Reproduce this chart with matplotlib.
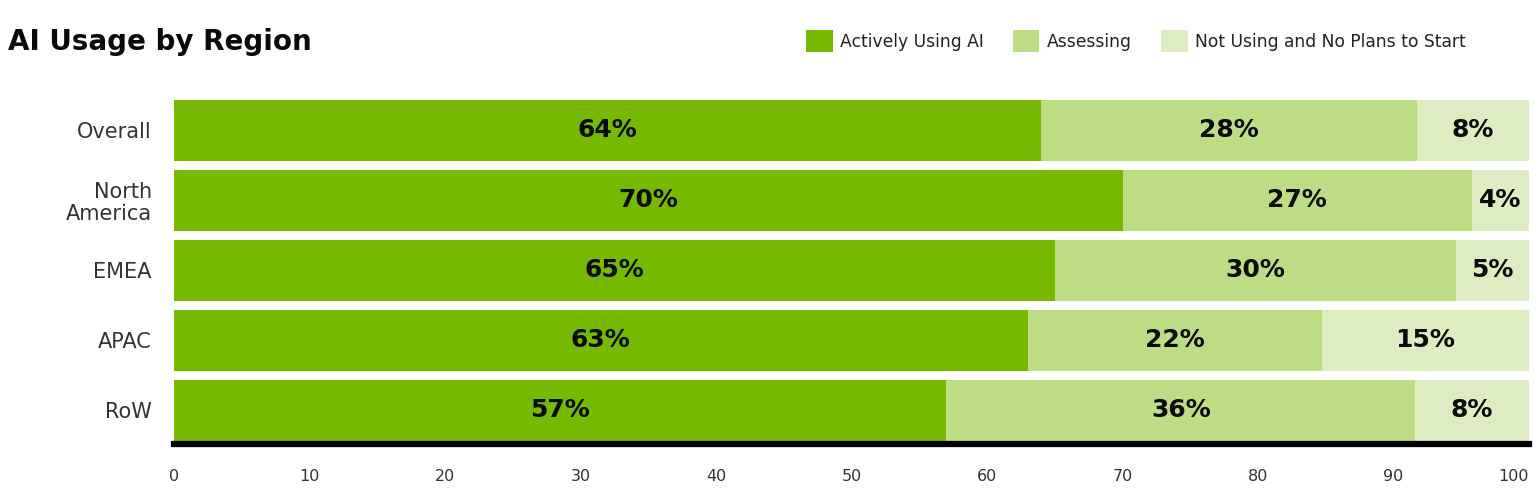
import matplotlib.pyplot as plt

# data (bar lengths), plus the printed labels
regions = ["Overall", "North\nAmerica", "EMEA", "APAC", "RoW"]
active = [64, 70, 65, 63, 57]
assessing = [27.7, 25.8, 29.6, 21.7, 34.6]
not_using = [8.3, 4.2, 5.4, 15.3, 8.4]
active_labels = ["64%", "70%", "65%", "63%", "57%"]
assessing_labels = ["28%", "27%", "30%", "22%", "36%"]
not_using_labels = ["8%", "4%", "5%", "15%", "8%"]
series_names = ["Actively Using AI", "Assessing", "Not Using and No Plans to Start"]
colors = ["#76b900", "#bcdd84", "#ddedc1"]
xticks = [0, 10, 20, 30, 40, 50, 60, 70, 80, 90, 100]

plt.rcParams["font.family"] = ["DejaVu Sans"]

W, H = 1536, 503
fig = plt.figure(figsize=(W / 100, H / 100), dpi=100)
ax = fig.add_axes([174 / W, 1 - 444 / H, (1529 - 174) / W, (444 - 100) / H])

y = list(range(len(regions)))
height = 0.87
left = [0] * len(regions)
for vals, labs, name, col in zip([active, assessing, not_using],
                                 [active_labels, assessing_labels, not_using_labels],
                                 series_names, colors):
    bars = ax.barh(y, vals, left=left, height=height, color=col, label=name)
    for b, lab in zip(bars, labs):
        ax.text(b.get_x() + b.get_width() / 2, b.get_y() + b.get_height() / 2, lab,
                ha="center", va="center", fontsize=18, fontweight="bold", color="#0a0a0a")
    left = [l + v for l, v in zip(left, vals)]

ax.set_xlim(0, 100)
ax.set_ylim(-0.435 + 344 / 70, -0.435)
ax.set_yticks(y)
ax.set_yticklabels(regions, fontsize=15, color="#333333", linespacing=1.1)
ax.set_xticks(xticks)
ax.set_xticklabels([str(t) for t in xticks], fontsize=11.5, color="#333333")
ax.get_xticklabels()[-1].set_ha("right")
ax.tick_params(axis="both", length=0)
ax.tick_params(axis="x", pad=18)
ax.tick_params(axis="y", pad=16)
for s in ["top", "right", "left"]:
    ax.spines[s].set_visible(False)
ax.spines["bottom"].set_linewidth(4.5)
ax.spines["bottom"].set_color("black")
ax.spines["bottom"].set_zorder(5)

fig.text(8 / W, 1 - 42 / H, "AI Usage by Region", fontsize=20, fontweight="bold",
         ha="left", va="center", color="#0a0a0a")

fig.legend(loc="center right", bbox_to_anchor=(1466 / W, 1 - 41 / H), ncol=3, frameon=False,
           fontsize=12.3, handlelength=1.55, handleheight=1.55, handletextpad=0.45,
           columnspacing=1.7, borderpad=0, borderaxespad=0, labelcolor="#222222")

fig.savefig("out.png", dpi=100)
